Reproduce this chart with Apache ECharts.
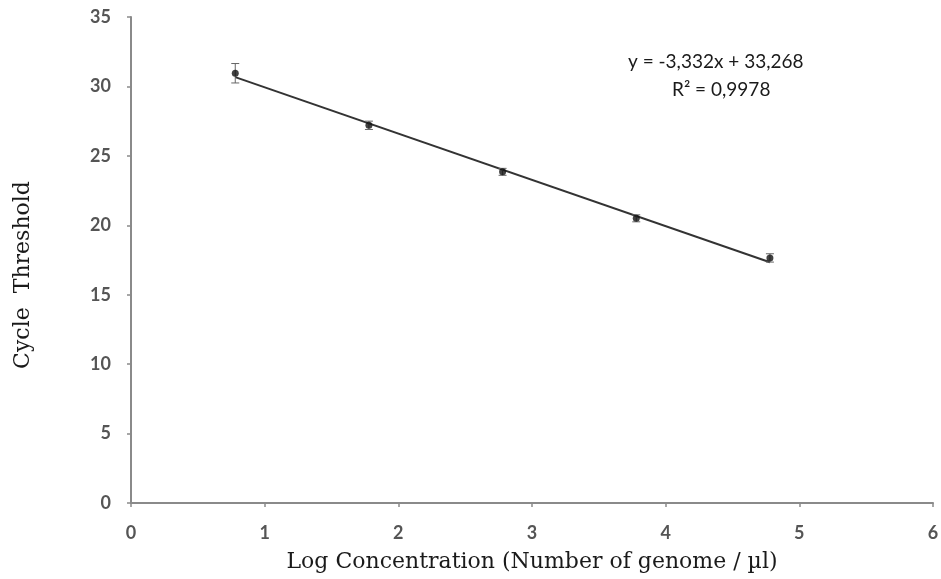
<!DOCTYPE html>
<html>
<head>
<meta charset="utf-8">
<script src="https://cdn.jsdelivr.net/npm/echarts@6/dist/echarts.min.js"></script>
<style>html,body{margin:0;padding:0;background:#fff;}#c{width:941px;height:579px;}</style>
</head>
<body>
<div id="c"></div>
<script>
var xValues = [0.78, 1.78, 2.78, 3.78, 4.78];
var ctValues = [30.95, 27.2, 23.85, 20.5, 17.65];
var ctErrors = [0.7, 0.3, 0.25, 0.25, 0.3];
var trendX = [0.78, 4.78];
var trendY = [30.67, 17.34];
var xTicks = [0, 1, 2, 3, 4, 5, 6];
var yTicks = [0, 5, 10, 15, 20, 25, 30, 35];
var equationText = 'y = -3,332x + 33,268';
var r2Text = 'R² = 0,9978';

var chart = echarts.init(document.getElementById('c'));
var pts = xValues.map(function (x, i) { return [x, ctValues[i]]; });
var errs = xValues.map(function (x, i) { return [x, ctValues[i] - ctErrors[i], ctValues[i] + ctErrors[i]]; });
var trend = trendX.map(function (x, i) { return [x, trendY[i]]; });
var axisStyle = { color: '#8a8a8a', width: 2 };
var tickFont = { color: '#555', fontSize: 18, fontWeight: 'bold', fontFamily: 'Lato, Liberation Sans, sans-serif' };
chart.setOption({
  animation: false,
  backgroundColor: '#fff',
  grid: { left: 131, right: 8, top: 17, bottom: 76, containLabel: false, outerBoundsMode: 'none' },
  xAxis: {
    type: 'value', min: xTicks[0], max: xTicks[xTicks.length - 1], interval: 1,
    axisLine: { lineStyle: axisStyle },
    axisTick: { show: true, length: 4, lineStyle: { color: '#8a8a8a', width: 1.5 } },
    splitLine: { show: false },
    axisLabel: Object.assign({ margin: 21 }, tickFont),
    name: 'Log Concentration (Number of genome / µl)',
    nameLocation: 'middle', nameGap: 48,
    nameTextStyle: { color: '#1a1a1a', fontSize: 22, fontFamily: 'DejaVu Serif, serif' }
  },
  yAxis: {
    type: 'value', min: yTicks[0], max: yTicks[yTicks.length - 1], interval: 5,
    axisLine: { show: true, lineStyle: axisStyle },
    axisTick: { show: true, length: 4, lineStyle: { color: '#8a8a8a', width: 1.5 } },
    splitLine: { show: false },
    axisLabel: Object.assign({ margin: 20 }, tickFont),
    name: 'Cycle  Threshold',
    nameLocation: 'middle', nameGap: 97, nameRotate: 90,
    nameTextStyle: { color: '#1a1a1a', fontSize: 22, fontFamily: 'DejaVu Serif, serif', padding: [0, 30, 0, 0] }
  },
  series: [
    {
      type: 'line', data: trend, symbol: 'none',
      lineStyle: { color: '#333', width: 2 }, z: 2
    },
    {
      type: 'custom', data: errs, z: 3,
      renderItem: function (params, api) {
        var x = api.value(0);
        var lo = api.coord([x, api.value(1)]);
        var hi = api.coord([x, api.value(2)]);
        var hw = 4;
        var st = { stroke: '#666', lineWidth: 1 };
        return {
          type: 'group',
          children: [
            { type: 'line', shape: { x1: lo[0], y1: lo[1], x2: hi[0], y2: hi[1] }, style: st },
            { type: 'line', shape: { x1: lo[0] - hw, y1: lo[1], x2: lo[0] + hw, y2: lo[1] }, style: st },
            { type: 'line', shape: { x1: hi[0] - hw, y1: hi[1], x2: hi[0] + hw, y2: hi[1] }, style: st }
          ]
        };
      }
    },
    {
      type: 'scatter', data: pts, symbol: 'circle', symbolSize: 7,
      itemStyle: { color: '#111' }, z: 4
    }
  ],
  graphic: [
    { type: 'text', left: 628, top: 52, style: { text: equationText, fill: '#1a1a1a', fontSize: 19, fontFamily: 'Lato, Liberation Sans, sans-serif' } },
    { type: 'text', left: 672, top: 80, style: { text: r2Text, fill: '#1a1a1a', fontSize: 19, fontFamily: 'Lato, Liberation Sans, sans-serif' } }
  ]
});
</script>
</body>
</html>
